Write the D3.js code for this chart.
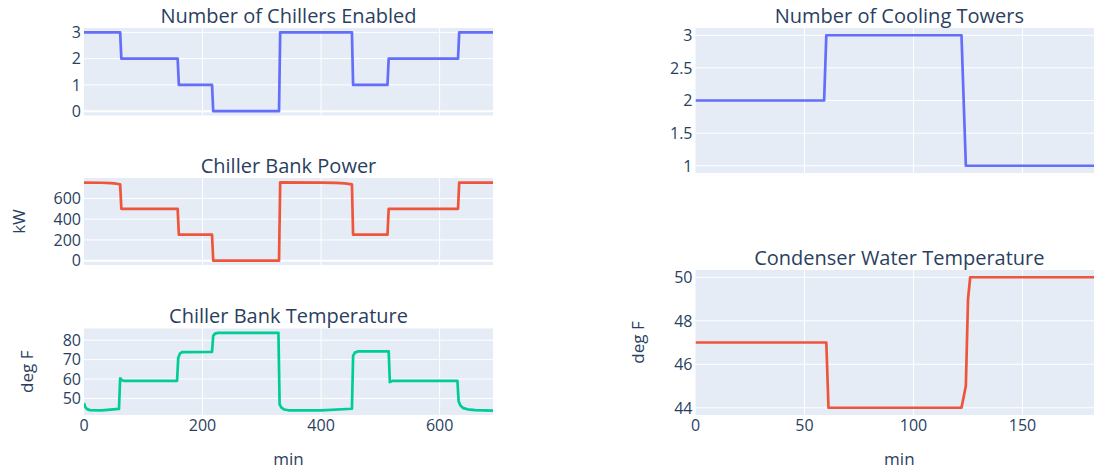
<!DOCTYPE html>
<html>
<head>
<meta charset="utf-8">
<script src="https://cdn.jsdelivr.net/npm/d3@7"></script>
<style>
  html, body { margin: 0; padding: 0; background: #fff; overflow: hidden; }
  svg { display: block; }
</style>
</head>
<body>
<svg id="chart" width="1094" height="471"></svg>
<script>
// ---------------- data ----------------
const chillerTime = [0, 61, 63, 158, 160, 216, 218, 329, 331, 452, 454, 512, 514, 631, 633, 690];
const chillerCount = [3, 3, 2, 2, 1, 1, 0, 0, 3, 3, 1, 1, 2, 2, 3, 3];

const powerTime = [0, 30, 45, 55, 61, 63, 158, 160, 216, 218, 329, 331, 400, 425, 440, 452, 454, 512, 514, 631, 633, 690];
const powerKW   = [752, 751, 748, 742, 735, 500, 500, 250, 250, 0, 0, 755, 753, 750, 745, 735, 250, 250, 500, 500, 752, 752];

const tempTime = [0, 2, 5, 10, 30, 59, 61, 64, 67, 157, 159, 162, 166, 216, 218, 221, 226, 328, 330, 333, 338, 345, 400, 452, 454, 457, 462, 514, 516, 520, 630, 632, 635, 640, 647, 660, 690];
const tempF    = [47.6, 45.6, 44.5, 44.0, 43.9, 44.6, 60.4, 59.4, 59.1, 59.1, 71.0, 73.2, 73.9, 74.0, 82.2, 83.4, 83.8, 83.8, 47.0, 45.3, 44.3, 43.9, 43.9, 44.7, 71.9, 73.6, 74.2, 74.2, 58.4, 59.0, 59.0, 48.5, 46.4, 45.0, 44.4, 44.0, 43.7];

const towerTime  = [0, 59, 60, 122, 124, 187];
const towerCount = [2, 2, 3, 3, 1, 1];

const condTime = [0, 60, 61, 122, 124, 125, 126, 187];
const condF    = [47, 47, 44, 44, 45, 49, 50, 50];

const leftXTicks  = [0, 200, 400, 600];
const rightXTicks = [0, 50, 100, 150];
const chillerTicks = [0, 1, 2, 3];
const powerTicks   = [0, 200, 400, 600];
const tempTicks    = [50, 60, 70, 80];
const towerTicks   = [1, 1.5, 2, 2.5, 3];
const condTicks    = [44, 46, 48, 50];

const titles = ["Number of Chillers Enabled", "Chiller Bank Power", "Chiller Bank Temperature",
                "Number of Cooling Towers", "Condenser Water Temperature"];

// ---------------- style ----------------
const FONT = '"Open Sans", verdana, arial, sans-serif';
const TXT = "#2a3f5f";
const BG = "#E5ECF6";
const BLUE = "#636efa", RED = "#EF553B", GREEN = "#00cc96";

const svg = d3.select("#chart");

function panel(opt) {
  const { x0, x1, y0, y1, xDomain, xTicks, showXLabels, xs, ys, yTicks, color, title, yTitle, yTitleX } = opt;
  const h = y1 - y0;
  const pad = 0.05 * h;
  const x = d3.scaleLinear().domain(xDomain).range([x0, x1]);
  const ext = d3.extent(ys);
  const y = d3.scaleLinear().domain(ext).range([y1 - pad, y0 + pad]);

  const g = svg.append("g");
  g.append("rect").attr("x", x0).attr("y", y0).attr("width", x1 - x0).attr("height", h).attr("fill", BG);

  // vertical grid
  g.selectAll(null).data(xTicks.filter(t => t > xDomain[0])).enter().append("line")
    .attr("x1", d => x(d)).attr("x2", d => x(d)).attr("y1", y0).attr("y2", y1)
    .attr("stroke", "#fff").attr("stroke-width", 1);
  // horizontal grid
  g.selectAll(null).data(yTicks).enter().append("line")
    .attr("x1", x0).attr("x2", x1).attr("y1", d => y(d)).attr("y2", d => y(d))
    .attr("stroke", "#fff").attr("stroke-width", d => d === 0 ? 2 : 1);

  // y tick labels
  g.selectAll(null).data(yTicks).enter().append("text")
    .attr("x", x0 - 3).attr("y", d => y(d)).attr("dy", "0.36em")
    .attr("text-anchor", "end").attr("font-family", FONT).attr("font-size", 16).attr("fill", TXT)
    .text(d => d3.format("~g")(d));

  if (showXLabels) {
    g.selectAll(null).data(xTicks).enter().append("text")
      .attr("x", d => x(d)).attr("y", y1 + 16)
      .attr("text-anchor", "middle").attr("font-family", FONT).attr("font-size", 16).attr("fill", TXT)
      .text(d => d);
    g.append("text").attr("x", (x0 + x1) / 2).attr("y", 464.5)
      .attr("text-anchor", "middle").attr("font-family", FONT).attr("font-size", 17).attr("fill", TXT)
      .text("min");
  }

  // line
  const pts = xs.map((t, i) => [t, ys[i]]);
  const clipId = "clip" + Math.round(x0) + "_" + Math.round(y0);
  svg.append("clipPath").attr("id", clipId).append("rect")
    .attr("x", x0).attr("y", y0).attr("width", x1 - x0).attr("height", h);
  g.append("path").datum(pts)
    .attr("clip-path", `url(#${clipId})`)
    .attr("d", d3.line().x(d => x(d[0])).y(d => y(d[1])))
    .attr("fill", "none").attr("stroke", color).attr("stroke-width", 2.7)
    .attr("stroke-linejoin", "round");

  // title
  g.append("text").attr("x", (x0 + x1) / 2).attr("y", y0 - 5.5)
    .attr("text-anchor", "middle").attr("font-family", FONT).attr("font-size", 20).attr("fill", TXT)
    .text(title);

  if (yTitle) {
    g.append("text")
      .attr("transform", `translate(${yTitleX},${(y0 + y1) / 2}) rotate(-90)`)
      .attr("text-anchor", "middle").attr("font-family", FONT).attr("font-size", 17).attr("fill", TXT)
      .text(yTitle);
  }
}

const LX0 = 84, LX1 = 493;
const RX0 = 695.5, RX1 = 1103.2;

panel({ x0: LX0, x1: LX1, y0: 28, y1: 115.5, xDomain: [0, 690], xTicks: leftXTicks, showXLabels: false,
        xs: chillerTime, ys: chillerCount, yTicks: chillerTicks, color: BLUE, title: titles[0] });
panel({ x0: LX0, x1: LX1, y0: 178, y1: 265, xDomain: [0, 690], xTicks: leftXTicks, showXLabels: false,
        xs: powerTime, ys: powerKW, yTicks: powerTicks, color: RED, title: titles[1], yTitle: "kW", yTitleX: 25 });
panel({ x0: LX0, x1: LX1, y0: 328.5, y1: 415, xDomain: [0, 690], xTicks: leftXTicks, showXLabels: true,
        xs: tempTime, ys: tempF, yTicks: tempTicks, color: GREEN, title: titles[2], yTitle: "deg F", yTitleX: 33 });
panel({ x0: RX0, x1: RX1, y0: 28, y1: 173, xDomain: [0, 187], xTicks: rightXTicks, showXLabels: false,
        xs: towerTime, ys: towerCount, yTicks: towerTicks, color: BLUE, title: titles[3] });
panel({ x0: RX0, x1: RX1, y0: 270, y1: 415, xDomain: [0, 187], xTicks: rightXTicks, showXLabels: true,
        xs: condTime, ys: condF, yTicks: condTicks, color: RED, title: titles[4], yTitle: "deg F", yTitleX: 644 });
</script>
</body>
</html>
